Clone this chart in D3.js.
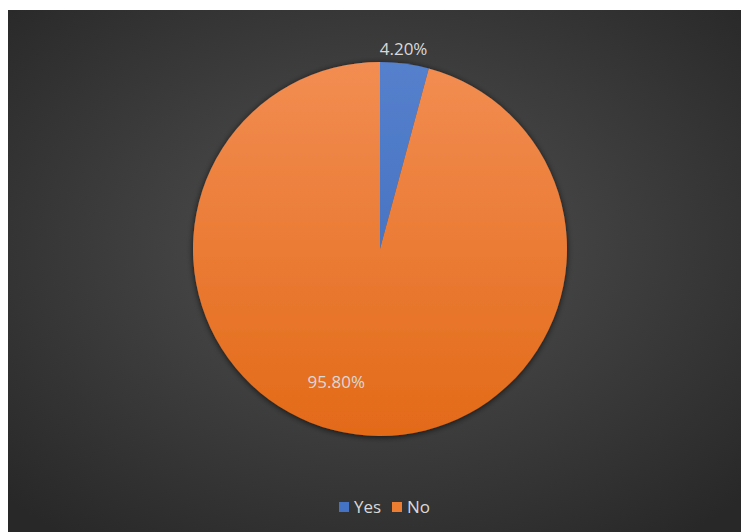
<!DOCTYPE html>
<html>
<head>
<meta charset="utf-8">
<script src="https://cdn.jsdelivr.net/npm/d3@7"></script>
<style>
  html, body { margin: 0; padding: 0; background: #fff; }
  svg { display: block; }
</style>
</head>
<body>
<svg width="742" height="532"></svg>
<script>
var categories = ['Yes', 'No'];
var values = [4.2, 95.8];
var labels = ['4.20%', '95.80%'];

var svg = d3.select('svg'),
  width = +svg.attr('width'),
  height = +svg.attr('height');

var cx = 380, cy = 249, r = 187;

var defs = svg.append('defs');

// chart area background, lighter in the middle
var bg = defs.append('radialGradient').attr('id', 'bg')
  .attr('cx', '50%').attr('cy', '45%').attr('r', '70%');
bg.append('stop').attr('offset', '0%').attr('stop-color', '#525252');
bg.append('stop').attr('offset', '100%').attr('stop-color', '#282828');

// slice fills, darker toward the bottom of the pie
var grads = [
  ['gYes', '#5580cc', '#3d68b8'],
  ['gNo', '#f28d52', '#e36a18']
];
grads.forEach(function(gg) {
  var lg = defs.append('linearGradient').attr('id', gg[0])
    .attr('gradientUnits', 'userSpaceOnUse')
    .attr('x1', 0).attr('y1', -r).attr('x2', 0).attr('y2', r);
  lg.append('stop').attr('offset', '0%').attr('stop-color', gg[1]);
  lg.append('stop').attr('offset', '100%').attr('stop-color', gg[2]);
});

var shadow = defs.append('filter').attr('id', 'shadow')
  .attr('x', '-20%').attr('y', '-20%').attr('width', '140%').attr('height', '140%');
shadow.append('feGaussianBlur').attr('in', 'SourceAlpha').attr('stdDeviation', 3);
shadow.append('feOffset').attr('dx', 0).attr('dy', 1).attr('result', 'b');
shadow.append('feComponentTransfer').append('feFuncA').attr('type', 'linear').attr('slope', 0.7);
var merge = shadow.append('feMerge');
merge.append('feMergeNode');
merge.append('feMergeNode').attr('in', 'SourceGraphic');

svg.append('rect')
  .attr('x', 8).attr('y', 10)
  .attr('width', width - 9).attr('height', height - 10)
  .attr('fill', 'url(#bg)');

var pie = d3.pie().sort(null).value(function(d) { return d; });
var arc = d3.arc().innerRadius(0).outerRadius(r);
var arcs = pie(values);

var g = svg.append('g')
  .attr('transform', 'translate(' + cx + ',' + cy + ')');

g.append('g').attr('filter', 'url(#shadow)')
  .selectAll('path')
  .data(arcs)
  .enter()
  .append('path')
  .attr('d', arc)
  .attr('fill', function(d, i) { return i === 0 ? 'url(#gYes)' : 'url(#gNo)'; });

var font = '"Segoe UI", "Open Sans", "Noto Sans", sans-serif';

// data labels: small slice outside, big slice inside (excel-ish placement)
var outerArc = d3.arc().innerRadius(r + 15).outerRadius(r + 15);
var innerArc = d3.arc().innerRadius(r * 0.72).outerRadius(r * 0.72);
function labelPos(d, i) {
  if (i === 0) {
    var p = outerArc.centroid(d);
    return [p[0] - 3, p[1]];
  }
  var q = innerArc.centroid(d);
  return [q[0] - 26, q[1]];
}
g.selectAll('text.lbl')
  .data(arcs)
  .enter()
  .append('text')
  .attr('class', 'lbl')
  .attr('transform', function(d, i) { return 'translate(' + labelPos(d, i) + ')'; })
  .attr('text-anchor', 'middle')
  .attr('dy', '0.35em')
  .attr('fill', '#d9d9d9')
  .style('font-family', font)
  .style('font-size', '17px')
  .text(function(d, i) { return labels[i]; });

// legend
var legend = svg.append('g').attr('transform', 'translate(339,507)');
var colors = ['#4472c4', '#ed7d31'];
var offsets = [0, 53];
var items = legend.selectAll('g')
  .data(categories)
  .enter()
  .append('g')
  .attr('transform', function(d, i) { return 'translate(' + offsets[i] + ',0)'; });
items.append('rect')
  .attr('x', 0).attr('y', -5)
  .attr('width', 10).attr('height', 10)
  .attr('fill', function(d, i) { return colors[i]; });
items.append('text')
  .attr('x', 15)
  .attr('dy', '0.35em')
  .attr('fill', '#d9d9d9')
  .style('font-family', font)
  .style('font-size', '17px')
  .text(function(d) { return d; });
</script>
</body>
</html>
